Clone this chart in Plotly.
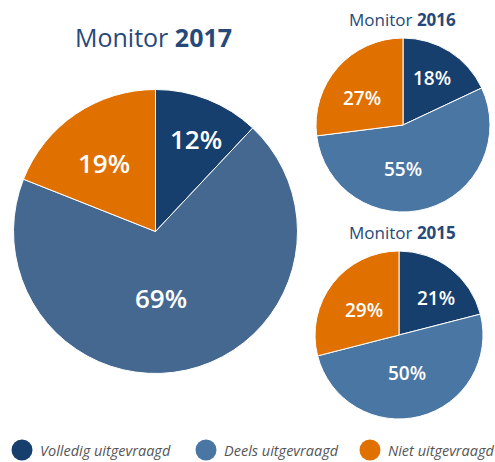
import math
import plotly.graph_objects as go

categories = ["Volledig uitgevraagd", "Deels uitgevraagd", "Niet uitgevraagd"]
years = ["2017", "2016", "2015"]
values_2017 = [12, 69, 19]
values_2016 = [18, 55, 27]
values_2015 = [21, 50, 29]

DARK = "#173f6e"
MID_BIG = "#44688f"
MID = "#4a76a3"
ORANGE = "#e07000"
TITLE = "#27497a"
FONT = "Open Sans"

W, H = 495, 462


def px(x):
    return x / W


def py(y):
    return 1 - y / H


def dom(cx, cy, r):
    return dict(x=[px(cx - r), px(cx + r)], y=[py(cy + r), py(cy - r)])


# layout of each pie: centre x, centre y, radius, label font size, colours,
# per-slice label placement (angle shift in degrees, radius fraction)
pies = [
    (values_2017, (155.5, 231.5, 142), 26, [DARK, MID_BIG, ORANGE],
     [(1.6, 0.72), (7.6, 0.46), (-2.3, 0.61)]),
    (values_2016, (403, 125, 87), 19, [DARK, MID, ORANGE],
     [(-1.4, 0.64), (16, 0.50), (-6.4, 0.57)]),
    (values_2015, (399, 335, 84), 19, [DARK, MID, ORANGE],
     [(7, 0.63), (2.4, 0.45), (-1.8, 0.52)]),
]

fig = go.Figure()
annotations = []
for vals, (cx, cy, r), fs, cols, lab in pies:
    fig.add_trace(go.Pie(
        labels=categories, values=vals, domain=dom(cx, cy, r), sort=False,
        direction="clockwise", rotation=0,
        marker=dict(colors=cols, line=dict(color="#ffffff", width=1)),
        textinfo="none", showlegend=False, hoverinfo="label+value",
    ))
    total = sum(vals)
    cum = 0
    for v, (dang, frac) in zip(vals, lab):
        mid = (cum + v / 2) / total * 360 + dang
        cum += v
        a = math.radians(mid)
        lx = cx + frac * r * math.sin(a)
        ly = cy - frac * r * math.cos(a)
        annotations.append(dict(
            x=px(lx), y=py(ly + 1), xref="paper", yref="paper", showarrow=False,
            text=f"{v}%", font=dict(family=FONT, size=fs, color="white", weight=600),
            xanchor="center", yanchor="middle",
        ))

# titles
titles = [(153, 37, 25), (402, 20, 17), (402, 233, 17)]
for yr, (x, y, fs) in zip(years, titles):
    annotations.append(dict(
        x=px(x), y=py(y), xref="paper", yref="paper", showarrow=False,
        text=f"Monitor <b>{yr}</b>", font=dict(family=FONT, size=fs, color=TITLE),
        xanchor="center", yanchor="middle",
    ))

# legend
shapes = []
leg_cols = [DARK, MID, ORANGE]
leg_x = [22, 206, 370]
LEG_Y = 450
for cat, col, x in zip(categories, leg_cols, leg_x):
    shapes.append(dict(type="circle", xref="paper", yref="paper",
                       x0=px(x - 10.5), x1=px(x + 10.5),
                       y0=py(LEG_Y + 10.5), y1=py(LEG_Y - 10.5),
                       fillcolor=col, line=dict(width=0)))
    annotations.append(dict(
        x=px(x + 16), y=py(LEG_Y), xref="paper", yref="paper", showarrow=False,
        text=f"<i>{cat}</i>", font=dict(family=FONT, size=14.5, color="#555555"),
        xanchor="left", yanchor="middle",
    ))

fig.update_layout(
    width=W, height=H, margin=dict(l=0, r=0, t=0, b=0),
    paper_bgcolor="white", plot_bgcolor="white",
    annotations=annotations, shapes=shapes,
)

fig.write_html(
    "out.html",
    config={"displayModeBar": False},
    post_script="document.body.style.margin='0';document.body.style.overflow='hidden';",
)
